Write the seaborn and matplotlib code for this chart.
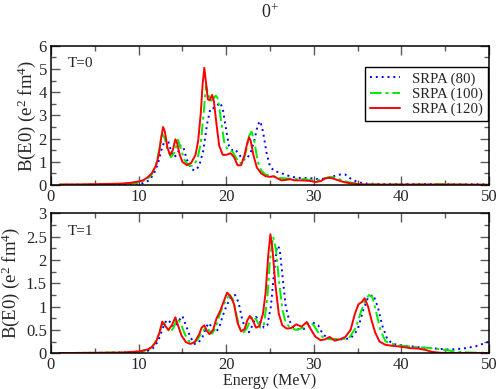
import numpy as np
import pandas as pd
import matplotlib
matplotlib.use("Agg")
import matplotlib.pyplot as plt
from matplotlib.ticker import MultipleLocator, FormatStrFormatter
import seaborn as sns

# Curvas: energia (MeV) y B(E0) (e^2 fm^4)
# Panel T=0
t0_x80 = [1, 5, 9, 10.5, 11.2, 11.7, 12.2, 12.6, 13.0, 13.3, 13.6, 14.0, 14.4, 14.8, 15.1, 15.5, 16.0, 16.4,
          16.9, 17.4, 17.8, 18.2, 18.5, 18.9, 19.3, 19.6, 19.9, 20.3, 20.7, 21.0, 21.4, 21.9, 22.3, 22.8,
          23.2, 23.6, 23.9, 24.2, 24.6, 25.0, 25.5, 26.0, 26.7, 27.5, 28.5, 29.5, 30.5, 31.5, 32.3, 33.0,
          33.6, 34.2, 35.0, 36.0, 38, 42, 46, 50]
t0_y80 = [0.01, 0.01, 0.03, 0.08, 0.2, 0.45, 0.9, 1.5, 1.95, 2.0, 1.6, 1.2, 1.3, 1.7, 1.65, 1.1, 0.7, 0.62,
          0.8, 1.5, 2.6, 3.3, 3.3, 3.4, 3.55, 3.3, 2.6, 1.7, 1.5, 1.55, 1.35, 1.1, 1.1, 1.4,
          1.9, 2.6, 2.75, 2.3, 1.4, 0.8, 0.6, 0.55, 0.45, 0.35, 0.3, 0.3, 0.25, 0.28, 0.38, 0.45,
          0.45, 0.28, 0.12, 0.06, 0.04, 0.04, 0.03, 0.03]

t0_x100 = [1, 5, 8, 10, 11, 11.5, 12, 12.4, 12.7, 13.0, 13.3, 13.7, 14.1, 14.5, 14.8, 15.2, 15.7, 16.2,
           16.7, 17.1, 17.4, 17.7, 17.9, 18.2, 18.5, 18.8, 19.1, 19.4, 19.8, 20.2, 20.7, 21.0, 21.5, 21.9,
           22.3, 22.6, 22.9, 23.2, 23.6, 24.0, 24.5, 25.0, 25.6, 26.2, 27.0, 28.0, 29.0, 30.0, 30.7, 31.3,
           32.0, 32.6, 33.2, 34.0, 35.0, 36.0, 38, 42, 44.5, 46, 50]
t0_y100 = [0.01, 0.02, 0.04, 0.1, 0.25, 0.45, 0.9, 1.6, 2.2, 2.0, 1.5, 1.2, 1.4, 1.95, 1.6, 1.1, 0.85, 0.82,
           1.1, 1.8, 3.0, 4.3, 4.0, 3.6, 3.7, 3.85, 3.7, 2.8, 1.8, 1.5, 1.45, 1.25, 0.95, 0.95,
           1.5, 2.1, 2.3, 1.9, 1.0, 0.62, 0.45, 0.4, 0.35, 0.3, 0.28, 0.27, 0.25, 0.2, 0.22, 0.3,
           0.35, 0.3, 0.2, 0.12, 0.06, 0.03, 0.02, 0.02, 0.04, 0.02, 0.01]

t0_x120 = [1, 4, 7, 8, 9, 10, 10.5, 11, 11.5, 12, 12.3, 12.6, 12.8, 13.0, 13.3, 13.6, 13.9, 14.2, 14.4,
           14.7, 15.0, 15.5, 16.0, 16.5, 16.8, 17.1, 17.3, 17.5, 17.7, 17.9, 18.1, 18.4, 18.6, 18.9, 19.2,
           19.6, 20.0, 20.5, 20.9, 21.3, 21.7, 22.1, 22.4, 22.6, 22.8, 23.1, 23.5, 24.0, 24.5, 25.0, 25.4,
           25.8, 26.3, 26.8, 27.3, 27.8, 28.5, 29.5, 30.2, 30.8, 31.3, 31.7, 32.2, 32.8, 33.5, 34.2, 35.0,
           36.0, 38, 42, 46, 50]
t0_y120 = [0.02, 0.03, 0.05, 0.06, 0.09, 0.15, 0.2, 0.32, 0.5, 0.85, 1.3, 2.1, 2.5, 2.3, 1.6, 1.3, 1.5, 1.97, 1.8,
           1.3, 1.0, 0.86, 0.95, 1.3, 1.9, 3.1, 4.3, 5.05, 4.4, 3.7, 3.65, 3.88, 3.6, 2.6, 1.7,
           1.3, 1.3, 1.37, 1.2, 0.85, 0.85, 1.3, 1.8, 2.05, 1.9, 1.3, 0.75, 0.5, 0.38, 0.35, 0.38,
           0.3, 0.2, 0.22, 0.25, 0.2, 0.2, 0.18, 0.13, 0.17, 0.28, 0.32, 0.28, 0.2, 0.12, 0.07, 0.04,
           0.02, 0.02, 0.02, 0.02, 0.01]

# Panel T=1
t1_x80 = [1, 5, 9, 11, 11.6, 12.2, 12.6, 13.0, 13.3, 13.7, 14.1, 14.6, 15.0, 15.4, 15.9, 16.4, 16.8, 17.3,
          17.7, 18.0, 18.4, 18.8, 19.2, 19.6, 20.0, 20.5, 21.0, 21.4, 21.8, 22.2, 22.6, 23.0, 23.4, 23.8,
          24.3, 24.7, 25.1, 25.5, 25.8, 26.1, 26.4, 26.8, 27.2, 27.7, 28.5, 29.3, 30.0, 30.5, 31.0, 31.6,
          32.3, 33.2, 34.2, 35.0, 35.6, 36.2, 36.8, 37.3, 37.8, 38.4, 39.0, 40.0, 42.0, 44.0, 45.5, 47.0,
          48.5, 50]
t1_y80 = [0.005, 0.01, 0.02, 0.05, 0.1, 0.25, 0.45, 0.65, 0.72, 0.65, 0.55, 0.7, 0.8, 0.6, 0.35, 0.2, 0.22, 0.35,
          0.55, 0.65, 0.55, 0.45, 0.55, 0.8, 1.0, 1.2, 1.25, 1.1, 0.75, 0.5, 0.45, 0.6, 0.78, 0.7,
          0.55, 0.6, 1.0, 1.8, 2.3, 2.25, 1.7, 1.0, 0.7, 0.55, 0.5, 0.55, 0.65, 0.6, 0.42, 0.32,
          0.3, 0.3, 0.32, 0.5, 0.9, 1.2, 1.25, 1.0, 0.6, 0.3, 0.2, 0.17, 0.13, 0.1, 0.08, 0.1,
          0.15, 0.25]

t1_x100 = [1, 5, 9, 10.5, 11.2, 11.8, 12.3, 12.6, 12.9, 13.2, 13.6, 14.0, 14.4, 14.8, 15.3, 15.8, 16.2, 16.7,
           17.2, 17.7, 18.0, 18.4, 18.8, 19.2, 19.6, 20.0, 20.4, 20.8, 21.2, 21.6, 22.0, 22.4, 22.8, 23.1,
           23.5, 23.9, 24.3, 24.7, 25.0, 25.35, 25.7, 26.0, 26.4, 26.8, 27.3, 28.0, 28.8, 29.5, 30.0, 30.6,
           31.2, 32.0, 33.0, 34.0, 34.8, 35.4, 35.9, 36.3, 36.7, 37.1, 37.6, 38.2, 39.0, 40.0, 42.0, 44.0,
           45.0, 46.5, 48, 50]
t1_y100 = [0.005, 0.01, 0.02, 0.04, 0.08, 0.2, 0.4, 0.58, 0.65, 0.55, 0.45, 0.55, 0.75, 0.65, 0.4, 0.25, 0.22, 0.28,
           0.45, 0.55, 0.5, 0.42, 0.55, 0.8, 1.0, 1.15, 1.25, 1.15, 0.8, 0.5, 0.45, 0.55, 0.75, 0.8,
           0.7, 0.55, 0.6, 1.2, 2.0, 2.5, 2.2, 1.6, 0.95, 0.65, 0.55, 0.5, 0.55, 0.67, 0.6, 0.42,
           0.32, 0.3, 0.3, 0.32, 0.55, 0.9, 1.15, 1.25, 1.2, 0.9, 0.5, 0.25, 0.2, 0.16, 0.13, 0.1,
           0.07, 0.03, 0.015, 0.01]

t1_x120 = [1, 5, 8, 10, 11, 11.5, 12, 12.4, 12.7, 13.0, 13.4, 13.8, 14.2, 14.5, 14.9, 15.4, 15.9, 16.4,
           16.9, 17.2, 17.5, 17.8, 18.1, 18.5, 18.9, 19.3, 19.7, 20.1, 20.5, 20.9, 21.3, 21.7, 22.1, 22.4,
           22.7, 23.0, 23.4, 23.8, 24.2, 24.5, 24.8, 25.05, 25.3, 25.6, 26.0, 26.4, 26.9, 27.4, 28.0, 28.6,
           29.2, 29.7, 30.2, 30.8, 31.3, 31.8, 32.4, 33.0, 33.6, 34.2, 34.7, 35.1, 35.5, 35.8, 36.2, 36.6,
           37.0, 37.5, 38.2, 39.0, 40.0, 41.0, 42.0, 42.8, 43.5, 44.5, 47, 50]
t1_y120 = [0.005, 0.01, 0.015, 0.04, 0.08, 0.13, 0.25, 0.45, 0.68, 0.6, 0.5, 0.6, 0.77, 0.6, 0.38, 0.24, 0.2, 0.24,
           0.4, 0.55, 0.6, 0.48, 0.41, 0.5, 0.75, 0.9, 1.1, 1.3, 1.22, 1.05, 0.65, 0.47, 0.52, 0.7,
           0.8, 0.72, 0.55, 0.58, 0.85, 1.3, 2.1, 2.55, 2.2, 1.5, 0.85, 0.6, 0.53, 0.54, 0.62, 0.57,
           0.67, 0.5, 0.35, 0.28, 0.3, 0.35, 0.27, 0.3, 0.35, 0.5, 0.85, 1.05, 1.1, 1.18, 1.0, 0.7,
           0.45, 0.25, 0.18, 0.16, 0.14, 0.11, 0.1, 0.07, 0.03, 0.01, 0.005, 0.005]

etiquetas = ["SRPA (80)", "SRPA (100)", "SRPA (120)"]
colores = ["#0000ff", "#00ee00", "#ff0000"]
estilos = [(0, (1, 2)), (0, (6, 2, 1.5, 2)), "-"]

sns.set_style("ticks")
plt.rcParams["font.family"] = ["Liberation Serif", "DejaVu Serif"]
plt.rcParams["mathtext.fontset"] = "custom"
plt.rcParams["mathtext.rm"] = "Liberation Serif"
plt.rcParams["mathtext.it"] = "Liberation Serif:italic"

fig = plt.figure(figsize=(4.98, 3.89), dpi=100)
ax1 = fig.add_axes([0.1024, 0.5244, 0.8795, 0.358])
ax2 = fig.add_axes([0.1024, 0.0918, 0.8795, 0.36])

paneles = [
    (ax1, [(t0_x80, t0_y80), (t0_x100, t0_y100), (t0_x120, t0_y120)], "T=0", 6, 1, 0.5, -0.03),
    (ax2, [(t1_x80, t1_y80), (t1_x100, t1_y100), (t1_x120, t1_y120)], "T=1", 3, 0.5, 0.25, -0.066),
]

for ax, curvas, texto, ymax, ymaj, ymin, ylx in paneles:
    for (x, y), lab, c, ls in zip(curvas, etiquetas, colores, estilos):
        df = pd.DataFrame({"E": x, "B": y})
        sns.lineplot(data=df, x="E", y="B", ax=ax, color=c, linestyle=ls, linewidth=1.4,
                     label=lab, sort=False, estimator=None)
    ax.set_xlim(0, 50)
    ax.set_ylim(0, ymax)
    ax.xaxis.set_major_locator(MultipleLocator(10))
    ax.xaxis.set_minor_locator(MultipleLocator(5))
    ax.yaxis.set_major_locator(MultipleLocator(ymaj))
    ax.yaxis.set_minor_locator(MultipleLocator(ymin))
    ax.yaxis.set_major_formatter(FormatStrFormatter("%g"))
    ax.tick_params(which="both", direction="in", top=True, right=True, color="0.35",
                   labelsize=12, pad=3)
    ax.tick_params(which="major", length=6.5, width=1)
    ax.tick_params(which="minor", length=3.5, width=1)
    for s in ax.spines.values():
        s.set_linewidth(1.1)
        s.set_color("black")
    ax.text(0.039, 0.872, texto, transform=ax.transAxes, fontsize=11, va="center", ha="left")
    ax.set_ylabel(r"B(E0) (e$^{2}$ fm$^{4}$)", fontsize=13.5)
    ax.yaxis.set_label_coords(ylx, 0.5)
    ax.set_xlabel("")

ax1.legend(loc="upper right", bbox_to_anchor=(0.998, 0.849), borderaxespad=0, fontsize=10.7,
           frameon=True, fancybox=False, edgecolor="black", framealpha=1, handlelength=2.0,
           handletextpad=0.8, labelspacing=0.12, borderpad=0.35)
ax1.get_legend().get_frame().set_linewidth(1.0)
ax2.legend_.remove()

ax2.set_xlabel("Energy (MeV)", fontsize=11.5)
ax2.xaxis.set_label_coords(0.5, -0.138)

fig.text(0.542, 0.954, r"0$^{+}$", ha="center", va="baseline", fontsize=13)

fig.savefig("out.png", dpi=100)
